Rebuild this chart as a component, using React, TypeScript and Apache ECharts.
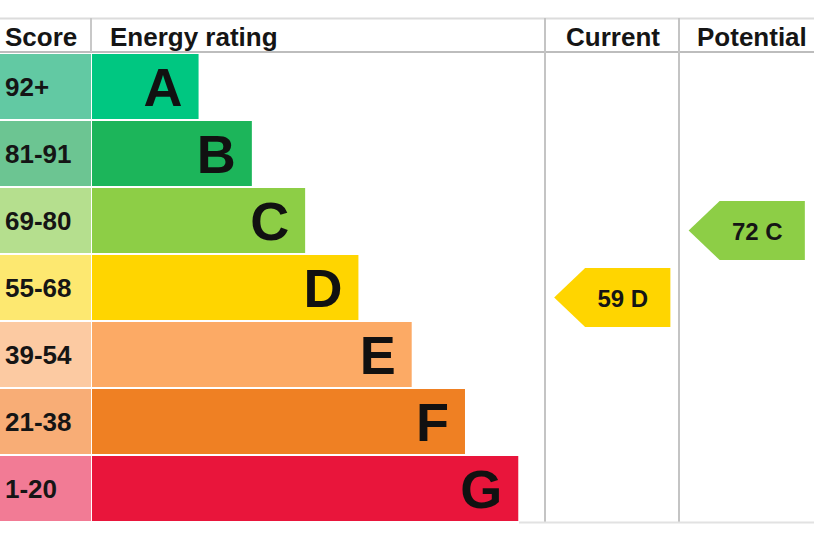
import React, { useEffect, useRef } from "react";
import * as echarts from "echarts";

const ratings = ["A", "B", "C", "D", "E", "F", "G"];
const scoreRanges = ["92+", "81-91", "69-80", "55-68", "39-54", "21-38", "1-20"];
const bandMins = [92, 81, 69, 55, 39, 21, 1];
const barSteps = [2, 3, 4, 5, 6, 7, 8];
const barColors = ["#00c781", "#1cb55a", "#8dce46", "#ffd500", "#fcaa65", "#ef8023", "#e9153b"];
const scoreColors = ["#62c9a3", "#6cc592", "#b5df8e", "#fde870", "#fccaa2", "#f8ad76", "#f27b95"];
const columns = ["Current", "Potential"];
const scores = [59, 72];

const FONT = '"Liberation Sans", Arial, sans-serif';

function bandIndex(s: number) {
  const i = bandMins.findIndex((m) => s >= m);
  return i < 0 ? bandMins.length - 1 : i;
}

export default function App() {
  const ref = useRef<HTMLDivElement>(null);
  useEffect(() => {
    if (!ref.current) return;
    const chart = echarts.init(ref.current, null, { renderer: "svg" });
    const top = 53;
    const height = 469;
    const line = (x1: number, y1: number, x2: number, y2: number, stroke: string, w = 2) => ({
      type: "line",
      shape: { x1, y1, x2, y2 },
      style: { stroke, lineWidth: w },
      z: 10,
    });
    const headText = (text: string, x: number, align: string) => ({
      type: "text",
      style: {
        text,
        x,
        y: 37,
        textAlign: align,
        textVerticalAlign: "middle",
        font: `bold 26px ${FONT}`,
        fill: "#151515",
      },
      z: 11,
    });
    const option: any = {
      animation: false,
      backgroundColor: "#ffffff",
      grid: [
        { left: 92, top, width: 722, height },
        { left: 0, top, width: 91, height },
        { left: 545, top, width: 269, height },
      ],
      xAxis: [
        { type: "value", gridIndex: 0, min: 0, max: 13.55, show: false },
        { type: "value", gridIndex: 1, min: 0, max: 1, show: false },
        { type: "category", gridIndex: 2, data: columns, show: false },
      ],
      yAxis: [
        { type: "category", gridIndex: 0, data: ratings, inverse: true, show: false },
        { type: "category", gridIndex: 1, data: ratings, inverse: true, show: false },
        { type: "category", gridIndex: 2, data: ratings, inverse: true, show: false },
      ],
      series: [
        {
          type: "bar",
          xAxisIndex: 0,
          yAxisIndex: 0,
          barCategoryGap: "3%",
          data: barSteps.map((v, i) => ({ value: v, itemStyle: { color: barColors[i] } })),
          label: {
            show: true,
            position: "insideRight",
            distance: 16,
            formatter: (p: any) => ratings[p.dataIndex],
            fontSize: 54,
            fontWeight: "bold",
            fontFamily: FONT,
            color: "#111111",
          },
        },
        {
          type: "bar",
          xAxisIndex: 1,
          yAxisIndex: 1,
          barCategoryGap: "3%",
          data: scoreRanges.map((_, i) => ({ value: 1, itemStyle: { color: scoreColors[i] } })),
          label: {
            show: true,
            position: "insideLeft",
            distance: 5,
            formatter: (p: any) => scoreRanges[p.dataIndex],
            fontSize: 26,
            fontWeight: "bold",
            fontFamily: FONT,
            color: "#151515",
          },
        },
        {
          type: "custom",
          xAxisIndex: 2,
          yAxisIndex: 2,
          data: scores.map((s, i) => [i, bandIndex(s), s]),
          renderItem: (params: any, api: any) => {
            const col = api.value(0);
            const band = api.value(1);
            const val = api.value(2);
            const c = api.coord([col, band]);
            const size = api.size([1, 1]);
            const half = size[0] * 0.432;
            const cy = c[1] + size[1] * 0.15;
            const h = size[1] * 0.44;
            const tipW = 31;
            const left = c[0] - half;
            const right = c[0] + half;
            const points = [
              [left, cy],
              [left + tipW, cy - h],
              [right, cy - h],
              [right, cy + h],
              [left + tipW, cy + h],
            ];
            return {
              type: "group",
              children: [
                { type: "polygon", shape: { points }, style: { fill: barColors[band] } },
                {
                  type: "text",
                  style: {
                    text: `${val} ${ratings[band]}`,
                    x: (left + tipW + right) / 2 - 5,
                    y: cy + 1,
                    textAlign: "center",
                    textVerticalAlign: "middle",
                    font: `bold 24px ${FONT}`,
                    fill: "#151515",
                  },
                },
              ],
            };
          },
        },
      ],
      graphic: [
        line(0, 18.5, 814, 18.5, "#dcdcdc"),
        line(0, 52, 814, 52, "#bdbdbd"),
        line(91, 18, 91, 52, "#c8c8c8"),
        line(545, 18, 545, 522, "#c4c4c4"),
        line(679, 18, 679, 522, "#c4c4c4"),
        line(519, 522.5, 814, 522.5, "#e2e2e2"),
        headText("Score", 5, "left"),
        headText("Energy rating", 110, "left"),
        headText("Current", 613, "center"),
        headText("Potential", 697, "left"),
      ],
    };
    chart.setOption(option);
    return () => chart.dispose();
  }, []);
  return (
    <div
      ref={ref}
      style={{ position: "absolute", left: 0, top: 0, width: 814, height: 542 }}
    />
  );
}
